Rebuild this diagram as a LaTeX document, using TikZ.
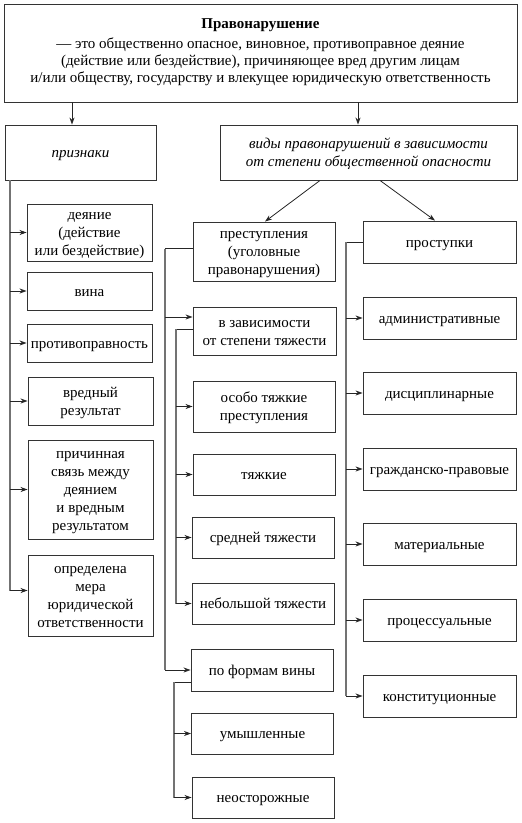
\documentclass[tikz,border=0pt]{standalone}
\usepackage{fontspec}
\setmainfont{Liberation Serif}
\usetikzlibrary{arrows.meta,calc}
\newcommand\tb[1]{\raisebox{-1.5bp}[\height][\depth]{\begin{tabular}{@{}c@{}}#1\end{tabular}}}
\begin{document}
\begin{tikzpicture}[x=1bp,y=-1bp,
 box/.style={draw=black!80, line width=0.9bp, inner sep=1bp, align=center, font=\fontsize{15bp}{18bp}\selectfont},
 arr/.style={draw=black!85, line width=0.8bp, -{Stealth[length=7bp,width=5bp]}},
 ln/.style={draw=black!85, line width=0.8bp},
 sp/.style={draw=black!55, line width=1.4bp}]
\useasboundingbox (0,0) rectangle (522,823);
% top
\node[box, minimum width=513bp, minimum height=98bp, font=\fontsize{15bp}{17bp}\selectfont] (top) at (260.5,53)
 {\raisebox{1bp}[\height][\depth]{\begin{tabular}{@{}c@{}}\textbf{Правонарушение}\\[3bp]
 — это общественно опасное, виновное, противоправное деяние\\
 (действие или бездействие), причиняющее вред другим лицам\\
 и/или обществу, государству и влекущее юридическую ответственность\end{tabular}}};
\node[box, minimum width=151bp, minimum height=55bp] (priz) at (80.5,152.5) {\tb{\itshape признаки}};
\node[box, minimum width=297bp, minimum height=55bp] (vidy) at (368.5,152.5)
 {\tb{\itshape виды правонарушений в зависимости\\ \itshape от степени общественной опасности}};
% left column
\node[box, minimum width=125bp, minimum height=57bp] (dey) at (89.5,232.5) {\tb{деяние\\(действие\\или бездействие)}};
\node[box, minimum width=125bp, minimum height=38bp] (vina) at (89.5,291) {\tb{вина}};
\node[box, minimum width=125bp, minimum height=38bp] (prot) at (89.5,343) {\tb{противоправность}};
\node[box, minimum width=125bp, minimum height=48bp] (vred) at (90.5,401) {\tb{вредный\\результат}};
\node[box, minimum width=125bp, minimum height=99bp] (prich) at (90.5,489.5) {\tb{причинная\\связь между\\деянием\\и вредным\\результатом}};
\node[box, minimum width=125bp, minimum height=81bp] (opr) at (90.5,595.5) {\tb{определена\\мера\\юридической\\ответственности}};
% middle column
\node[box, minimum width=142bp, minimum height=59bp] (pre) at (264,251.5) {\tb{преступления\\(уголовные\\правонарушения)}};
\node[box, minimum width=143bp, minimum height=48bp] (vz) at (264.5,331) {\tb{в зависимости\\от степени тяжести}};
\node[box, minimum width=142bp, minimum height=51bp] (ot) at (264,406.5) {\tb{особо тяжкие\\преступления}};
\node[box, minimum width=142bp, minimum height=41bp] (tk) at (264,474.5) {\tb{тяжкие}};
\node[box, minimum width=142bp, minimum height=41bp] (sr) at (263,537.5) {\tb{средней тяжести}};
\node[box, minimum width=142bp, minimum height=41bp] (neb) at (263,603.5) {\tb{небольшой тяжести}};
\node[box, minimum width=142bp, minimum height=42bp] (pf) at (262,670) {\tb{по формам вины}};
\node[box, minimum width=142bp, minimum height=41bp] (um) at (262.5,733.5) {\tb{умышленные}};
\node[box, minimum width=142bp, minimum height=41bp] (neo) at (263,797.5) {\tb{неосторожные}};
% right column
\node[box, minimum width=153bp, minimum height=42bp] (pro) at (439.5,242) {\tb{проступки}};
\node[box, minimum width=153bp, minimum height=42bp] (adm) at (439.5,318) {\tb{административные}};
\node[box, minimum width=153bp, minimum height=42bp] (dis) at (439.5,393) {\tb{дисциплинарные}};
\node[box, minimum width=153bp, minimum height=42bp] (gr) at (439.5,469) {\tb{гражданско-правовые}};
\node[box, minimum width=153bp, minimum height=42bp] (mat) at (439.5,544) {\tb{материальные}};
\node[box, minimum width=153bp, minimum height=42bp] (proc) at (439.5,620) {\tb{процессуальные}};
\node[box, minimum width=153bp, minimum height=42bp] (kon) at (439.5,696) {\tb{конституционные}};
% helper coordinates
\coordinate (a1) at (72,0);
\coordinate (a2) at (358,0);
\coordinate (d1) at (320,0);
\coordinate (d2) at (380,0);
\coordinate (t1) at (265,0);
\coordinate (t2) at (435,0);
\coordinate (sL) at (10,0);
\coordinate (m1) at (165,0);
\coordinate (m2) at (176,0);
\coordinate (m3) at (174,0);
\coordinate (r1) at (346,0);
% top arrows
\draw[arr] (top.south -| a1) -- (priz.north -| a1);
\draw[arr] (top.south -| a2) -- (vidy.north -| a2);
\draw[arr] (vidy.south -| d1) -- (pre.north -| t1);
\draw[arr] (vidy.south -| d2) -- (pro.north -| t2);
% left spine
\draw[sp] (priz.south -| sL) -- ([yshift=5bp]opr.west -| sL);
\foreach \n in {dey,vina,prot,vred,prich}
  \draw[arr] (\n.west -| sL) -- (\n.west);
\draw[arr] ([yshift=5bp]opr.west -| sL) -- ([yshift=5bp]opr.west);
% middle spine 1
\draw[ln] ([yshift=3bp]pre.west) -- ([yshift=3bp]pre.west -| m1);
\draw[sp] ([yshift=3bp]pre.west -| m1) -- (pf.west -| m1);
\draw[arr] ([yshift=14bp]vz.west -| m1) -- ([yshift=14bp]vz.west);
\draw[arr] (pf.west -| m1) -- (pf.west);
% middle spine 2
\draw[ln] ([yshift=2bp]vz.west) -- ([yshift=2bp]vz.west -| m2);
\draw[sp] ([yshift=2bp]vz.west -| m2) -- (neb.west -| m2);
\foreach \n in {ot,tk,sr,neb}
  \draw[arr] (\n.west -| m2) -- (\n.west);
% middle spine 3
\draw[ln] ([yshift=-12bp]pf.west) -- ([yshift=-12bp]pf.west -| m3);
\draw[sp] ([yshift=-12bp]pf.west -| m3) -- (neo.west -| m3);
\foreach \n in {um,neo}
  \draw[arr] (\n.west -| m3) -- (\n.west);
% right spine
\draw[ln] (pro.west) -- (pro.west -| r1);
\draw[sp] (pro.west -| r1) -- (kon.west -| r1);
\foreach \n in {adm,dis,gr,mat,proc,kon}
  \draw[arr] (\n.west -| r1) -- (\n.west);
\end{tikzpicture}
\end{document}
